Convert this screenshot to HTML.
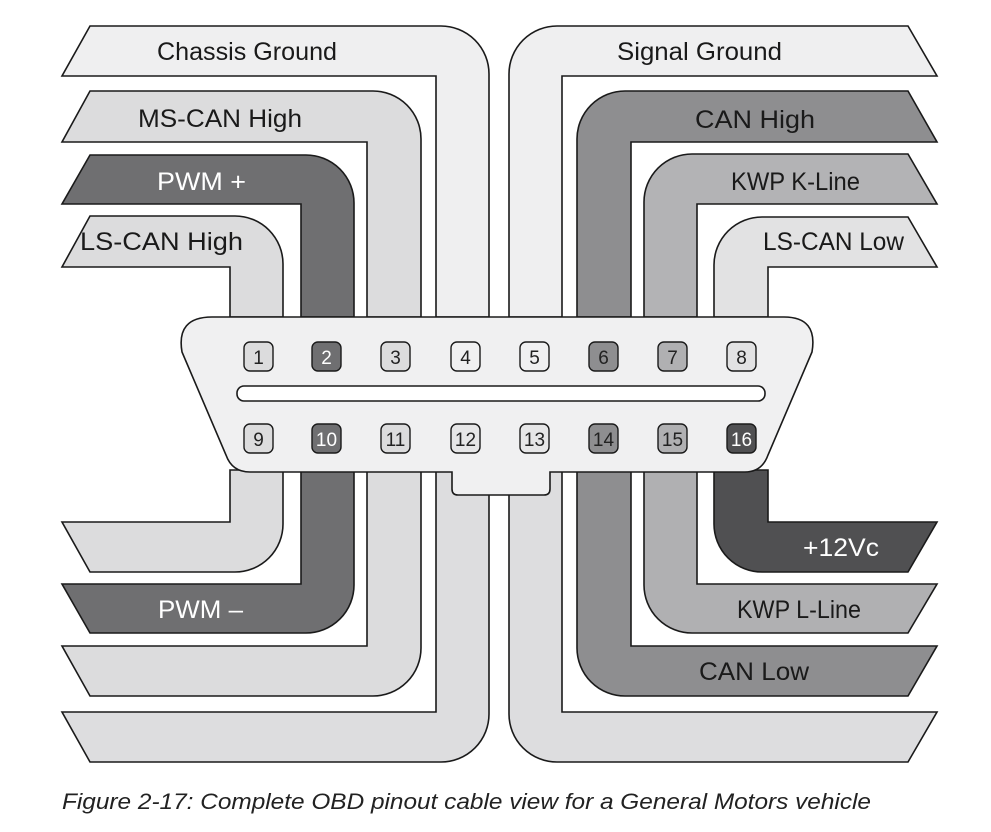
<!DOCTYPE html>
<html><head><meta charset="utf-8"><style>
html,body{margin:0;padding:0;background:#fff;}
svg{display:block;}
text{font-family:"Liberation Sans",sans-serif;}
</style></head><body>
<svg width="991" height="832" viewBox="0 0 991 832" xmlns="http://www.w3.org/2000/svg">
<g stroke="#1a1a1a" stroke-width="1.6" stroke-linejoin="miter">
<path d="M90,26 L441,26 A48,48 0 0 1 489,74 L489,317 L436,317 L436,76 L62,76 Z" fill="#efeff0"/>
<path d="M90,91 L373,91 A48,48 0 0 1 421,139 L421,317 L367,317 L367,142 L62,142 Z" fill="#dcdcdd"/>
<path d="M90,155 L306,155 A48,48 0 0 1 354,203 L354,317 L301,317 L301,204 L62,204 Z" fill="#6f6f71"/>
<path d="M90,216 L235,216 A48,48 0 0 1 283,264 L283,317 L230,317 L230,267 L62,267 Z" fill="#dcdcdd"/>
<path d="M908,26 L557,26 A48,48 0 0 0 509,74 L509,317 L562,317 L562,76 L937,76 Z" fill="#efeff0"/>
<path d="M908,91 L625,91 A48,48 0 0 0 577,139 L577,317 L631,317 L631,142 L937,142 Z" fill="#8e8e90"/>
<path d="M908,154 L692,154 A48,48 0 0 0 644,202 L644,317 L697,317 L697,204 L937,204 Z" fill="#b3b3b5"/>
<path d="M908,217 L762,217 A48,48 0 0 0 714,265 L714,317 L768,317 L768,267 L937,267 Z" fill="#e2e2e3"/>
<path d="M62,522 L230,522 L230,470 L283,470 L283,524 A48,48 0 0 1 235,572 L90,572 Z" fill="#dcdcdd"/>
<path d="M62,584 L301,584 L301,470 L354,470 L354,585 A48,48 0 0 1 306,633 L90,633 Z" fill="#6f6f71"/>
<path d="M62,646 L367,646 L367,470 L421,470 L421,648 A48,48 0 0 1 373,696 L90,696 Z" fill="#dcdcdd"/>
<path d="M62,712 L436,712 L436,470 L489,470 L489,714 A48,48 0 0 1 441,762 L90,762 Z" fill="#dddddf"/>
<path d="M937,522 L768,522 L768,470 L714,470 L714,524 A48,48 0 0 0 762,572 L908,572 Z" fill="#505052"/>
<path d="M937,584 L697,584 L697,470 L644,470 L644,585 A48,48 0 0 0 692,633 L908,633 Z" fill="#b0b0b2"/>
<path d="M937,646 L631,646 L631,470 L577,470 L577,648 A48,48 0 0 0 625,696 L908,696 Z" fill="#8e8e90"/>
<path d="M937,712 L562,712 L562,470 L509,470 L509,714 A48,48 0 0 0 557,762 L908,762 Z" fill="#dddddf"/>
<path d="M212,317 L784,317 Q818,317 812,352 L768,455 Q762,472 745,472 L550,472 L550,489 Q550,495 544,495 L458,495 Q452,495 452,489 L452,472 L250,472 Q232,472 226,455 L182,352 Q176,317 212,317 Z" fill="#f0f0f1"/>
<rect x="237" y="386" width="528" height="15" rx="7" fill="#fff"/>
</g>
<g stroke="#1a1a1a" stroke-width="1.4">
<rect x="244" y="342" width="29" height="29" rx="6" fill="#dcdcdd"/>
<rect x="312" y="342" width="29" height="29" rx="6" fill="#6f6f71"/>
<rect x="381" y="342" width="29" height="29" rx="6" fill="#dcdcdd"/>
<rect x="451" y="342" width="29" height="29" rx="6" fill="#f0f0f1"/>
<rect x="520" y="342" width="29" height="29" rx="6" fill="#f0f0f1"/>
<rect x="589" y="342" width="29" height="29" rx="6" fill="#8e8e90"/>
<rect x="658" y="342" width="29" height="29" rx="6" fill="#b0b0b2"/>
<rect x="727" y="342" width="29" height="29" rx="6" fill="#e2e2e3"/>
<rect x="244" y="424" width="29" height="29" rx="6" fill="#dcdcdd"/>
<rect x="312" y="424" width="29" height="29" rx="6" fill="#6f6f71"/>
<rect x="381" y="424" width="29" height="29" rx="6" fill="#dcdcdd"/>
<rect x="451" y="424" width="29" height="29" rx="6" fill="#e6e6e7"/>
<rect x="520" y="424" width="29" height="29" rx="6" fill="#e6e6e7"/>
<rect x="589" y="424" width="29" height="29" rx="6" fill="#8e8e90"/>
<rect x="658" y="424" width="29" height="29" rx="6" fill="#b0b0b2"/>
<rect x="727" y="424" width="29" height="29" rx="6" fill="#505052"/>
</g>
<g font-size="19" text-anchor="middle" fill="#222">
<text x="258.5" y="364">1</text>
<text x="326.5" y="364" fill="#fff">2</text>
<text x="395.5" y="364">3</text>
<text x="465.5" y="364">4</text>
<text x="534.5" y="364">5</text>
<text x="603.5" y="364">6</text>
<text x="672.5" y="364">7</text>
<text x="741.5" y="364">8</text>
<text x="258.5" y="446">9</text>
<text x="326.5" y="446" fill="#fff">10</text>
<text x="395.5" y="446">11</text>
<text x="465.5" y="446">12</text>
<text x="534.5" y="446">13</text>
<text x="603.5" y="446">14</text>
<text x="672.5" y="446">15</text>
<text x="741.5" y="446" fill="#fff">16</text>
</g>
<g font-size="25" fill="#1a1a1a">
<text x="157" y="60" textLength="180" lengthAdjust="spacingAndGlyphs">Chassis Ground</text>
<text x="138" y="127" textLength="164" lengthAdjust="spacingAndGlyphs">MS-CAN High</text>
<text x="157" y="190" textLength="89" lengthAdjust="spacingAndGlyphs" fill="#fff">PWM +</text>
<text x="80" y="250" textLength="163" lengthAdjust="spacingAndGlyphs">LS-CAN High</text>
<text x="617" y="60" textLength="165" lengthAdjust="spacingAndGlyphs">Signal Ground</text>
<text x="695" y="128" textLength="120" lengthAdjust="spacingAndGlyphs">CAN High</text>
<text x="731" y="190" textLength="129" lengthAdjust="spacingAndGlyphs">KWP K-Line</text>
<text x="763" y="250" textLength="141" lengthAdjust="spacingAndGlyphs">LS-CAN Low</text>
<text x="803" y="556" textLength="76" lengthAdjust="spacingAndGlyphs" fill="#fff">+12Vc</text>
<text x="737" y="618" textLength="124" lengthAdjust="spacingAndGlyphs">KWP L-Line</text>
<text x="699" y="680" textLength="110" lengthAdjust="spacingAndGlyphs">CAN Low</text>
<text x="158" y="618" textLength="85" lengthAdjust="spacingAndGlyphs" fill="#fff">PWM –</text>
</g>
<text x="62" y="809" font-size="22" font-style="italic" fill="#222" textLength="809" lengthAdjust="spacingAndGlyphs">Figure 2-17: Complete OBD pinout cable view for a General Motors vehicle</text>
</svg>
</body></html>
